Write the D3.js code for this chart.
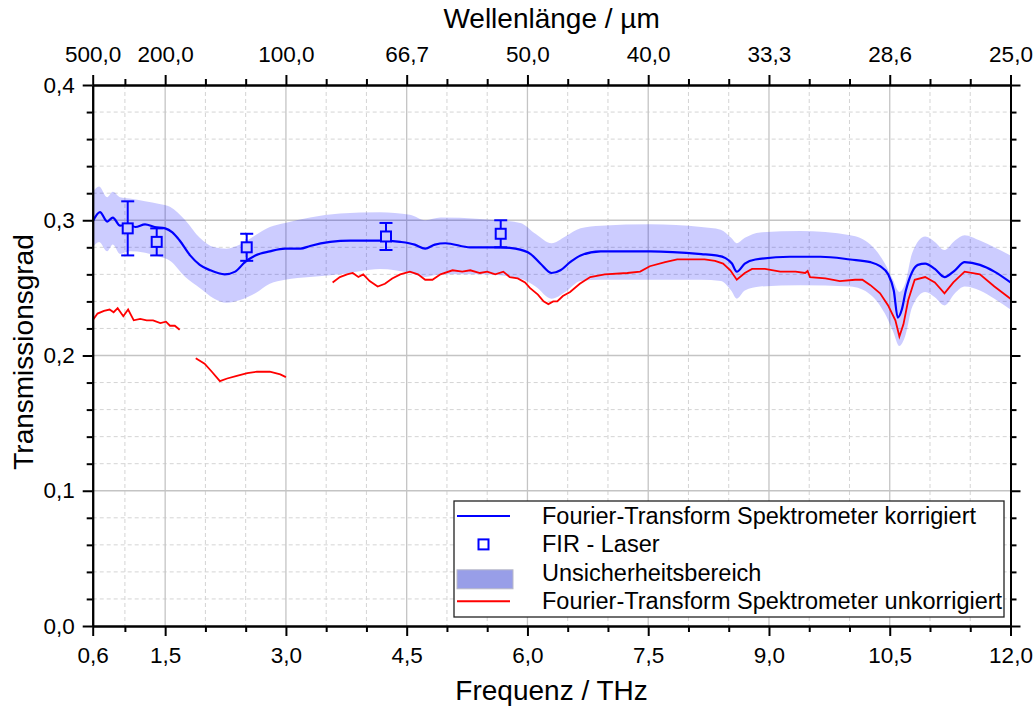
<!DOCTYPE html>
<html>
<head>
<meta charset="utf-8">
<script src="https://cdn.jsdelivr.net/npm/d3@7"></script>
<style>
  body { margin: 0; background: #fff; }
  svg { display: block; font-family: "Liberation Sans", Arial, sans-serif; }
  .axis path, .axis line { stroke: #000; stroke-width: 2; }
  .axis text { font-size: 22.5px; fill: #000; }
</style>
</head>
<body>
<div class="container"></div>
<script>
// corrected FTS spectrum (THz, transmission)
const blueFreq = [0.60, 0.69, 0.78, 0.85, 0.94, 1.04, 1.13, 1.25, 1.37, 1.50, 1.59, 1.68, 1.81, 1.93, 2.06, 2.24, 2.37, 2.49, 2.62, 2.80, 2.99, 3.18, 3.30, 3.55, 3.80, 4.17, 4.42, 4.60, 4.73, 4.85, 4.98, 5.29, 5.66, 5.85, 6.04, 6.16, 6.30, 6.41, 6.53, 6.66, 6.91, 7.53, 8.16, 8.34, 8.46, 8.54, 8.60, 8.70, 8.83, 9.26, 9.64, 10.01, 10.26, 10.38, 10.48, 10.55, 10.60, 10.65, 10.70, 10.78, 10.85, 10.94, 11.06, 11.18, 11.31, 11.43, 11.62, 11.80, 12.00];
const blueT = [0.299, 0.306, 0.299, 0.302, 0.296, 0.297, 0.295, 0.297, 0.295, 0.294, 0.291, 0.285, 0.274, 0.267, 0.263, 0.260, 0.262, 0.269, 0.274, 0.277, 0.279, 0.279, 0.281, 0.284, 0.285, 0.285, 0.284, 0.282, 0.279, 0.282, 0.283, 0.280, 0.280, 0.279, 0.275, 0.268, 0.261, 0.263, 0.269, 0.274, 0.277, 0.277, 0.275, 0.274, 0.272, 0.268, 0.262, 0.268, 0.271, 0.273, 0.273, 0.271, 0.269, 0.266, 0.260, 0.248, 0.228, 0.234, 0.248, 0.262, 0.267, 0.268, 0.264, 0.258, 0.263, 0.269, 0.267, 0.262, 0.254];

// uncertainty band
const bandFreq = [0.60, 0.68, 0.78, 0.85, 0.94, 1.06, 1.25, 1.43, 1.56, 1.75, 1.93, 2.11, 2.26, 2.43, 2.62, 2.80, 2.99, 3.30, 3.67, 4.17, 4.54, 4.73, 4.92, 5.41, 5.91, 6.10, 6.30, 6.47, 6.66, 6.91, 7.53, 8.16, 8.40, 8.53, 8.60, 8.70, 8.89, 9.39, 10.01, 10.26, 10.44, 10.54, 10.62, 10.69, 10.78, 10.94, 11.06, 11.18, 11.31, 11.43, 11.62, 11.80, 12.00];
const bandHigh = [0.321, 0.325, 0.317, 0.321, 0.317, 0.316, 0.314, 0.312, 0.310, 0.300, 0.287, 0.280, 0.279, 0.282, 0.289, 0.295, 0.298, 0.302, 0.305, 0.306, 0.304, 0.300, 0.302, 0.301, 0.298, 0.290, 0.283, 0.288, 0.294, 0.296, 0.297, 0.295, 0.293, 0.287, 0.283, 0.287, 0.291, 0.292, 0.289, 0.282, 0.268, 0.256, 0.247, 0.253, 0.276, 0.288, 0.284, 0.278, 0.285, 0.289, 0.285, 0.280, 0.274];
const bandLow = [0.280, 0.284, 0.277, 0.282, 0.275, 0.277, 0.276, 0.273, 0.270, 0.258, 0.250, 0.242, 0.239, 0.241, 0.246, 0.253, 0.256, 0.258, 0.260, 0.264, 0.261, 0.258, 0.260, 0.260, 0.257, 0.251, 0.242, 0.247, 0.255, 0.256, 0.256, 0.256, 0.255, 0.248, 0.242, 0.248, 0.251, 0.252, 0.251, 0.245, 0.231, 0.218, 0.207, 0.214, 0.236, 0.247, 0.243, 0.237, 0.246, 0.251, 0.248, 0.242, 0.234];

// uncorrected FTS spectrum, three measured pieces
const red1Freq = [0.60, 0.66, 0.74, 0.81, 0.86, 0.91, 0.98, 1.04, 1.11, 1.19, 1.27, 1.35, 1.44, 1.51, 1.56, 1.62, 1.68];
const red1T = [0.226, 0.231, 0.233, 0.234, 0.232, 0.235, 0.229, 0.234, 0.226, 0.227, 0.226, 0.226, 0.224, 0.225, 0.222, 0.222, 0.219];
const red2Freq = [1.88, 1.99, 2.08, 2.18, 2.27, 2.39, 2.52, 2.64, 2.80, 2.93, 3.00];
const red2T = [0.198, 0.194, 0.188, 0.181, 0.183, 0.185, 0.187, 0.188, 0.188, 0.186, 0.184];
const red3Freq = [3.58, 3.67, 3.76, 3.83, 3.90, 3.96, 4.04, 4.14, 4.23, 4.32, 4.42, 4.54, 4.64, 4.73, 4.82, 4.92, 5.07, 5.19, 5.29, 5.41, 5.50, 5.60, 5.70, 5.78, 5.88, 5.97, 6.03, 6.13, 6.20, 6.26, 6.32, 6.37, 6.44, 6.53, 6.65, 6.78, 6.96, 7.24, 7.40, 7.52, 7.71, 7.86, 8.02, 8.20, 8.33, 8.43, 8.52, 8.60, 8.70, 8.79, 8.95, 9.14, 9.33, 9.45, 9.48, 9.51, 9.70, 9.88, 10.07, 10.16, 10.26, 10.38, 10.48, 10.57, 10.62, 10.67, 10.73, 10.81, 10.94, 11.06, 11.18, 11.29, 11.43, 11.62, 11.80, 12.00];
const red3T = [0.254, 0.258, 0.260, 0.261, 0.258, 0.260, 0.255, 0.251, 0.253, 0.257, 0.260, 0.262, 0.260, 0.256, 0.256, 0.260, 0.263, 0.262, 0.263, 0.261, 0.262, 0.260, 0.262, 0.258, 0.257, 0.254, 0.250, 0.245, 0.240, 0.238, 0.240, 0.240, 0.244, 0.247, 0.253, 0.258, 0.260, 0.261, 0.262, 0.266, 0.269, 0.271, 0.271, 0.271, 0.270, 0.268, 0.263, 0.256, 0.261, 0.264, 0.264, 0.262, 0.262, 0.261, 0.2625, 0.258, 0.257, 0.255, 0.256, 0.256, 0.252, 0.246, 0.237, 0.226, 0.214, 0.223, 0.241, 0.256, 0.258, 0.254, 0.246, 0.254, 0.262, 0.260, 0.251, 0.242];

// FIR laser measurements
const firFreq = [1.035, 1.395, 2.513, 4.243, 5.668];
const firT = [0.294, 0.284, 0.280, 0.288, 0.290];
const firErr = [0.020, 0.010, 0.010, 0.010, 0.010];

// ticks
const xMajor = [0.6, 1.5, 3.0, 4.5, 6.0, 7.5, 9.0, 10.5, 12.0];
const xMinor = [1.0, 2.0, 2.5, 3.5, 4.0, 5.0, 5.5, 6.5, 7.0, 8.0, 8.5, 9.5, 10.0, 11.0, 11.5];
const wavelengthLabels = ["500,0", "200,0", "100,0", "66,7", "50,0", "40,0", "33,3", "28,6", "25,0"];
const yMajor = [0, 0.1, 0.2, 0.3, 0.4];
const yMinor = [0.02, 0.04, 0.06, 0.08, 0.12, 0.14, 0.16, 0.18, 0.22, 0.24, 0.26, 0.28, 0.32, 0.34, 0.36, 0.38];

const legendItems = [
  { label: "Fourier-Transform Spektrometer korrigiert", type: "line", color: "#0000ff" },
  { label: "FIR - Laser", type: "square", color: "#0000ff" },
  { label: "Unsicherheitsbereich", type: "area", color: "#989ee8" },
  { label: "Fourier-Transform Spektrometer unkorrigiert", type: "line", color: "#ff0000" }
];

const margin = { top: 85, right: 25.5, bottom: 83, left: 92.7 },
  width = 1036 - margin.left - margin.right,
  height = 709 - margin.top - margin.bottom;

const x = d3.scaleLinear().domain([0.6, 12]).range([0, width]);
const y = d3.scaleLinear().domain([0, 0.4]).range([height, 0]);
const comma = d => d3.format(".1f")(d).replace(".", ",");

const svg = d3.select(".container")
  .append("svg")
  .attr("width", 1036)
  .attr("height", 709);

svg.append("rect").attr("width", 1036).attr("height", 709).attr("fill", "#fff");

const g = svg.append("g").attr("transform", `translate(${margin.left},${margin.top})`);

// grid
g.append("g").selectAll("line")
  .data(xMinor).join("line")
  .attr("x1", d => x(d)).attr("x2", d => x(d))
  .attr("y1", 0).attr("y2", height)
  .attr("stroke", "#d4d4d4").attr("stroke-width", 1).attr("stroke-dasharray", "4,3");
g.append("g").selectAll("line")
  .data(yMinor).join("line")
  .attr("x1", 0).attr("x2", width)
  .attr("y1", d => y(d)).attr("y2", d => y(d))
  .attr("stroke", "#d4d4d4").attr("stroke-width", 1).attr("stroke-dasharray", "4,3");
g.append("g").selectAll("line")
  .data(xMajor.slice(1, -1)).join("line")
  .attr("x1", d => x(d)).attr("x2", d => x(d))
  .attr("y1", 0).attr("y2", height)
  .attr("stroke", "#c4c4c4").attr("stroke-width", 1.3);
g.append("g").selectAll("line")
  .data(yMajor.slice(1, -1)).join("line")
  .attr("x1", 0).attr("x2", width)
  .attr("y1", d => y(d)).attr("y2", d => y(d))
  .attr("stroke", "#c4c4c4").attr("stroke-width", 1.3);

// band
const band = bandFreq.map((f, i) => ({ f, lo: bandLow[i], hi: bandHigh[i] }));
g.append("path")
  .datum(band)
  .attr("fill", "rgba(0,0,255,0.2)")
  .attr("d", d3.area().curve(d3.curveMonotoneX)
    .x(d => x(d.f)).y0(d => y(d.lo)).y1(d => y(d.hi)));

// red pieces
const redLine = d3.line().x(d => x(d[0])).y(d => y(d[1]));
[[red1Freq, red1T], [red2Freq, red2T], [red3Freq, red3T]].forEach(([fs, ts]) => {
  g.append("path")
    .datum(fs.map((f, i) => [f, ts[i]]))
    .attr("fill", "none")
    .attr("stroke", "#ff0000")
    .attr("stroke-width", 1.8)
    .attr("d", redLine);
});

// blue line
g.append("path")
  .datum(blueFreq.map((f, i) => [f, blueT[i]]))
  .attr("fill", "none")
  .attr("stroke", "#0000ff")
  .attr("stroke-width", 2.2)
  .attr("d", d3.line().curve(d3.curveMonotoneX).x(d => x(d[0])).y(d => y(d[1])));

// FIR points with error bars
const fir = firFreq.map((f, i) => ({ f, t: firT[i], e: firErr[i] }));
const pts = g.append("g").selectAll("g").data(fir).join("g")
  .attr("stroke", "#0000ff").attr("stroke-width", 2);
pts.append("line")
  .attr("x1", d => x(d.f)).attr("x2", d => x(d.f))
  .attr("y1", d => y(d.t + d.e)).attr("y2", d => y(d.t - d.e));
pts.append("line")
  .attr("x1", d => x(d.f) - 6.5).attr("x2", d => x(d.f) + 6.5)
  .attr("y1", d => y(d.t + d.e)).attr("y2", d => y(d.t + d.e));
pts.append("line")
  .attr("x1", d => x(d.f) - 6.5).attr("x2", d => x(d.f) + 6.5)
  .attr("y1", d => y(d.t - d.e)).attr("y2", d => y(d.t - d.e));
pts.append("rect")
  .attr("x", d => x(d.f) - 5).attr("y", d => y(d.t) - 5)
  .attr("width", 10).attr("height", 10)
  .attr("fill", "#ccccff");

// axes
const addAxis = (axis, tr, cls) => g.append("g").attr("class", "axis " + (cls || "")).attr("transform", tr).call(axis);

addAxis(d3.axisBottom(x).tickValues(xMinor).tickSize(6).tickSizeOuter(0).tickFormat(""), `translate(0,${height})`);
addAxis(d3.axisBottom(x).tickValues(xMajor).tickSize(10).tickSizeOuter(0).tickPadding(11).tickFormat(comma), `translate(0,${height})`);
addAxis(d3.axisTop(x).tickValues(xMinor).tickSize(6).tickSizeOuter(0).tickFormat(""), "translate(0,0)");
addAxis(d3.axisTop(x).tickValues(xMajor).tickSize(10).tickSizeOuter(0).tickPadding(13)
  .tickFormat((d, i) => wavelengthLabels[i]), "translate(0,0)");
addAxis(d3.axisLeft(y).tickValues(yMinor).tickSize(6).tickSizeOuter(0).tickFormat(""), "translate(0,0)");
addAxis(d3.axisLeft(y).tickValues(yMajor).tickSize(10).tickSizeOuter(0).tickPadding(8).tickFormat(comma), "translate(0,0)");
addAxis(d3.axisRight(y).tickValues(yMinor).tickSize(6).tickSizeOuter(0).tickFormat(""), `translate(${width},0)`);
addAxis(d3.axisRight(y).tickValues(yMajor).tickSize(10).tickSizeOuter(0).tickFormat(""), `translate(${width},0)`);

// axis titles
svg.append("text")
  .attr("x", margin.left + width / 2).attr("y", 28)
  .attr("text-anchor", "middle").attr("font-size", 28)
  .text("Wellenlänge / µm");
svg.append("text")
  .attr("x", margin.left + width / 2).attr("y", 700)
  .attr("text-anchor", "middle").attr("font-size", 28)
  .text("Frequenz / THz");
svg.append("text")
  .attr("transform", "translate(33,352) rotate(-90)")
  .attr("text-anchor", "middle").attr("font-size", 28)
  .text("Transmissionsgrad");

// legend
const lg = svg.append("g").attr("transform", "translate(454,501)");
lg.append("rect")
  .attr("width", 550).attr("height", 116)
  .attr("fill", "#fff").attr("stroke", "#222").attr("stroke-width", 1.3);
const rows = lg.selectAll("g.row").data(legendItems).join("g")
  .attr("class", "row")
  .attr("transform", (d, i) => `translate(0,${15 + i * 28.4})`);
rows.filter(d => d.type === "line").append("line")
  .attr("x1", 3).attr("x2", 56).attr("y1", 0).attr("y2", 0)
  .attr("stroke", d => d.color).attr("stroke-width", 2);
rows.filter(d => d.type === "square").append("rect")
  .attr("x", 24.5).attr("y", -5).attr("width", 10).attr("height", 10)
  .attr("fill", "#fff").attr("stroke", d => d.color).attr("stroke-width", 2);
rows.filter(d => d.type === "area").append("rect")
  .attr("x", 3).attr("y", -3).attr("width", 56).attr("height", 19)
  .attr("fill", d => d.color).attr("stroke", "#b8b8c8").attr("stroke-width", 1);
rows.append("text")
  .attr("x", 88).attr("y", 8)
  .attr("font-size", 23.5)
  .text(d => d.label);
</script>
</body>
</html>
